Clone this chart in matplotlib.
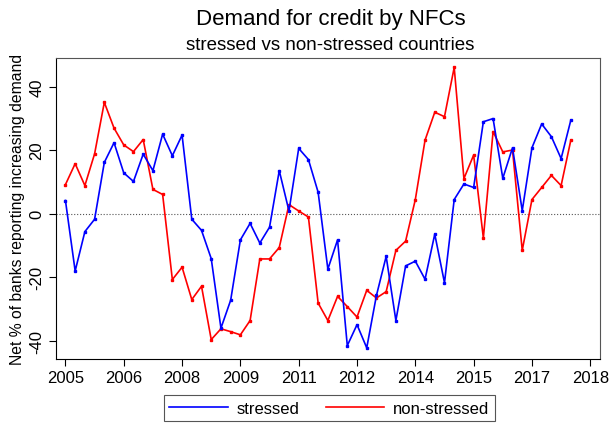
import matplotlib
matplotlib.use('agg')
import matplotlib.pyplot as plt

plt.rcParams['font.family'] = ['Liberation Sans', 'DejaVu Sans']

# quarterly, 2005q1 .. 2018q1
quarters = list(range(53))
stressed = [4.1, -18.1, -5.7, -1.8, 16.1, 22.3, 12.8, 10.1, 18.7, 13.5,
            25.0, 18.2, 24.7, -1.8, -5.3, -14.2, -36.1, -27.3, -8.3, -3.1,
            -9.3, -4.3, 13.5, 0.8, 20.5, 17.0, 6.7, -17.5, -8.3, -41.6,
            -35.0, -42.3, -25.8, -13.5, -33.7, -16.5, -15.0, -20.7, -6.5, -21.8,
            4.4, 9.3, 8.2, 28.9, 29.9, 11.1, 20.7, 0.9, 20.7, 28.2,
            24.2, 17.3, 29.4]
non_stressed = [9.1, 15.7, 8.8, 18.8, 35.0, 26.9, 21.6, 19.5, 23.3, 7.6,
                6.0, -20.8, -16.9, -27.1, -22.9, -39.7, -36.3, -37.2, -38.2, -33.7,
                -14.3, -14.3, -10.7, 2.8, 0.8, -1.1, -28.2, -33.7, -26.1, -29.3,
                -32.6, -24.2, -26.6, -24.6, -11.6, -8.7, 4.4, 23.1, 31.9, 30.5,
                46.0, 11.0, 18.4, -7.7, 25.8, 19.4, 20.0, -11.6, 4.4, 8.2,
                12.0, 8.8, 23.1]
tick_pos = list(range(0, 55, 6))
tick_labels = [str(2005 + t // 4) for t in tick_pos]
y_ticks = [-40, -20, 0, 20, 40]

fig = plt.figure(figsize=(6.09, 4.27), dpi=100)
ax = fig.add_axes([0.0915, 0.157, 0.8937, 0.705])

ax.axhline(0, color='#555555', linestyle=':', linewidth=0.8, zorder=1)
ax.plot(quarters, stressed, color='#0000FF', linewidth=1.2, marker='s',
        markersize=1.6, label='stressed', zorder=3)
ax.plot(quarters, non_stressed, color='#FF0000', linewidth=1.2, marker='s',
        markersize=1.6, label='non-stressed', zorder=2)

ax.set_xlim(-1, 55)
ax.set_ylim(-45.8, 49.0)
ax.set_xticks(tick_pos)
ax.set_xticklabels(tick_labels, fontsize=12)
ax.set_yticks(y_ticks)
ax.set_yticklabels([str(v) for v in y_ticks], fontsize=12, rotation=90, va='center')
ax.tick_params(direction='out', length=5, width=0.8, pad=3)
ax.set_ylabel('Net % of banks reporting increasing demand', fontsize=11.3, labelpad=3)

for side in ['top', 'right']:
    ax.spines[side].set_color('#555555')
for side in ['left', 'bottom']:
    ax.spines[side].set_color('black')

fig.text(0.543, 0.955, 'Demand for credit by NFCs', ha='center', va='center', fontsize=16)
fig.text(0.543, 0.893, 'stressed vs non-stressed countries', ha='center', va='center', fontsize=13.5)

leg = fig.legend(loc='center', bbox_to_anchor=(0.541, 0.042), ncol=2, fontsize=12,
                 fancybox=False, edgecolor='#555555', handlelength=3.5,
                 handletextpad=0.55, columnspacing=1.55, borderpad=0.35, framealpha=1)
leg.get_frame().set_linewidth(0.8)
for line in leg.get_lines():
    line.set_marker('')

fig.savefig('out.png', dpi=100)
